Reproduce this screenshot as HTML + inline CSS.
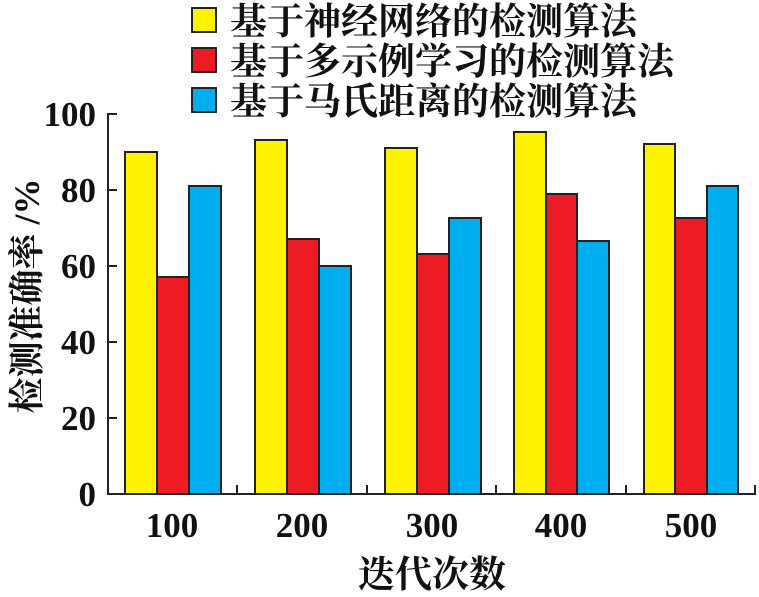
<!DOCTYPE html>
<html><head><meta charset="utf-8"><style>
body{margin:0;background:#fff}
svg text{font-family:"Liberation Serif","Noto Serif CJK SC",serif;fill:#111;font-weight:bold}
</style></head><body>
<svg width="759" height="592" viewBox="0 0 759 592" xmlns="http://www.w3.org/2000/svg">
<g stroke="#222" stroke-width="2">
<rect x="192" y="8" width="24" height="24" fill="#fff200"/>
<rect x="192" y="48" width="24" height="24" fill="#ed1c24"/>
<rect x="192" y="88" width="24" height="24" fill="#00aeef"/>
</g>
<g font-size="37">
<text x="230" y="34">基于神经网络的检测算法</text>
<text x="230" y="74">基于多示例学习的检测算法</text>
<text x="230" y="114">基于马氏距离的检测算法</text>
</g>
<g stroke="#222" stroke-width="2">
<rect x="125" y="152" width="32" height="342" fill="#fff200"/>
<rect x="157" y="277" width="32" height="217" fill="#ed1c24"/>
<rect x="189" y="186" width="32" height="308" fill="#00aeef"/>
<rect x="255" y="140" width="32" height="354" fill="#fff200"/>
<rect x="287" y="239" width="32" height="255" fill="#ed1c24"/>
<rect x="319" y="266" width="32" height="228" fill="#00aeef"/>
<rect x="385" y="148" width="32" height="346" fill="#fff200"/>
<rect x="417" y="254" width="32" height="240" fill="#ed1c24"/>
<rect x="449" y="218" width="32" height="276" fill="#00aeef"/>
<rect x="514" y="132" width="32" height="362" fill="#fff200"/>
<rect x="546" y="194" width="31" height="300" fill="#ed1c24"/>
<rect x="577" y="241" width="32" height="253" fill="#00aeef"/>
<rect x="644" y="144" width="31" height="350" fill="#fff200"/>
<rect x="675" y="218" width="32" height="276" fill="#ed1c24"/>
<rect x="707" y="186" width="31" height="308" fill="#00aeef"/>
</g>
<g stroke="#222" stroke-width="2" fill="none">
<path d="M108 113 V494 H756"/>
<path d="M108 114 h9 M108 190 h9 M108 266 h9 M108 342 h9 M108 418 h9"/>
<path d="M237 494 v-9 M367 494 v-9 M496 494 v-9 M626 494 v-9 M755 494 v-9"/>
</g>
<g font-size="35" text-anchor="end">
<text x="96" y="126">100</text>
<text x="96" y="202">80</text>
<text x="96" y="278">60</text>
<text x="96" y="354">40</text>
<text x="96" y="430">20</text>
<text x="96" y="506">0</text>
</g>
<g font-size="35" text-anchor="middle">
<text x="172" y="537">100</text>
<text x="302" y="537">200</text>
<text x="432" y="537">300</text>
<text x="561" y="537">400</text>
<text x="691" y="537">500</text>
<text x="432" y="587" font-size="37">迭代次数</text>
<text transform="translate(39,296) rotate(-90)" font-size="36">检测准确率 /%</text>
</g>
</svg>
</body></html>
